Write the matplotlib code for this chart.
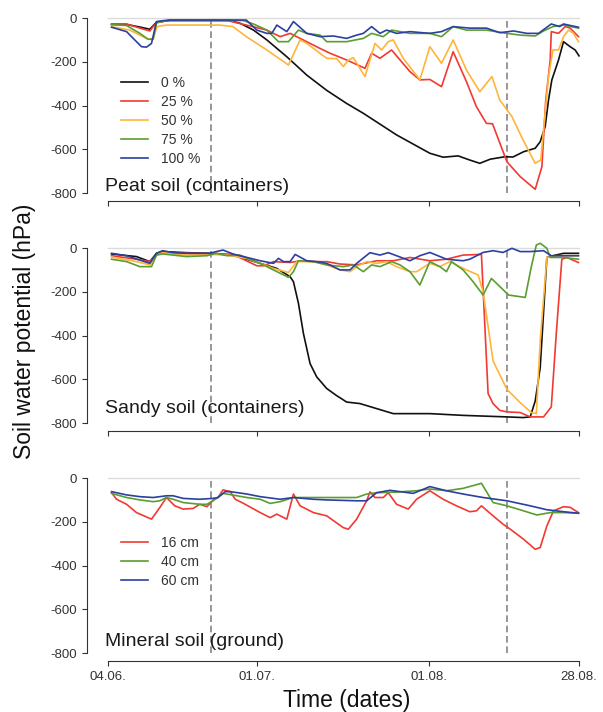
import numpy as np
import matplotlib
matplotlib.use('Agg')
import matplotlib.pyplot as plt

plt.rcParams['font.family'] = ['Liberation Sans', 'DejaVu Sans']

# days counted from 04.06.
tick_days = [0, 27, 58, 85]
tick_labels = ['04.06.', '01.07.', '01.08.', '28.08.']
event_days = [18.6, 72.1]

# ---- peat soil (containers) ----
peat_0_d = [0.7, 3.4, 5.8, 7.6, 8.8, 11.2, 22.0, 23.9, 26.3, 28.7, 32.3, 35.9, 39.5, 43.1, 46.1, 52.1,
            58.1, 60.5, 63.2, 65.3, 67.1, 69.0, 71.6, 73.1, 75.0, 77.1, 78.0, 78.9, 79.5, 80.1, 81.3,
            82.2, 83.4, 84.3, 85.0]
peat_0_v = [-28, -28, -40, -50, -18, -10, -10, -23, -54, -99, -176, -260, -330, -390, -435, -534,
            -618, -636, -630, -649, -664, -645, -634, -635, -611, -595, -565, -495, -374, -282, -191,
            -107, -130, -145, -172]
peat_25_d = [0.7, 3.4, 5.8, 7.6, 8.2, 8.9, 11.2, 21.5, 25.0, 28.7, 31.1, 32.9, 34.7, 38.3, 40.1, 43.1,
             46.4, 47.6, 49.1, 51.2, 54.5, 56.3, 58.1, 60.2, 62.3, 64.7, 66.5, 68.3, 69.4, 72.0, 74.4,
             77.1, 78.3, 79.0, 79.8, 80.0, 81.3, 82.5, 83.4, 84.9]
peat_25_v = [-26, -26, -45, -58, -38, -20, -8, -10, -31, -54, -84, -69, -92, -138, -160, -191,
             -229, -160, -183, -145, -244, -282, -280, -313, -153, -290, -405, -481, -483, -657, -725,
             -783, -680, -374, -191, -61, -69, -38, -45, -84]
peat_50_d = [0.7, 4.0, 5.8, 7.3, 8.2, 8.9, 10.6, 20.2, 22.6, 25.0, 28.7, 32.6, 34.7, 35.9, 39.5, 41.3,
             42.5, 43.4, 44.3, 46.4, 48.2, 49.4, 50.6, 51.5, 53.3, 56.3, 58.1, 60.2, 62.3, 64.7, 67.1,
             69.3, 70.7, 72.9, 74.9, 77.1, 78.1, 78.6, 79.5, 80.3, 81.3, 82.2, 83.1, 84.0, 84.9]
peat_50_v = [-38, -54, -77, -96, -92, -38, -31, -31, -38, -84, -145, -214, -99, -115, -183, -185,
             -221, -191, -180, -267, -115, -145, -107, -99, -183, -282, -130, -206, -99, -237, -336,
             -267, -374, -450, -557, -664, -649, -511, -267, -145, -145, -84, -54, -69, -107]
peat_75_d = [0.7, 3.4, 5.8, 7.3, 8.2, 8.8, 10.6, 24.4, 26.3, 28.7, 30.8, 32.6, 34.4, 35.9, 38.3, 39.5,
             43.1, 46.1, 47.6, 49.7, 51.2, 54.5, 58.1, 60.2, 62.3, 64.7, 68.3, 72.0, 74.4, 77.1, 78.6,
             80.3, 82.2, 84.9]
peat_75_v = [-29, -33, -69, -96, -96, -20, -11, -10, -26, -54, -107, -107, -54, -69, -77, -107,
             -107, -92, -69, -84, -54, -69, -69, -84, -38, -54, -54, -69, -77, -81, -58,
             -38, -31, -45]
peat_100_d = [0.7, 3.4, 4.6, 6.1, 7.0, 7.9, 8.8, 9.9, 11.2, 25.0, 26.9, 28.7, 29.6, 30.5, 32.3, 33.5,
              35.9, 38.3, 40.7, 43.1, 44.9, 46.1, 47.6, 49.1, 50.3, 52.1, 54.5, 58.1, 60.2, 62.3, 65.3,
              68.3, 70.7, 73.2, 75.6, 77.7, 80.0, 81.5, 82.2, 84.9]
peat_100_v = [-41, -61, -92, -130, -132, -115, -15, -11, -8, -8, -54, -69, -69, -31, -61, -15,
              -69, -84, -81, -92, -77, -69, -38, -69, -54, -69, -61, -69, -61, -38, -45,
              -45, -66, -58, -69, -69, -26, -38, -26, -41]

# ---- sandy soil (containers) ----
sand_0_d = [0.7, 5.2, 7.6, 8.8, 9.9, 14.2, 18.4, 22.6, 27.5, 30.5, 32.9, 33.5, 34.4, 35.3, 36.5, 37.7,
            39.5, 41.2, 43.1, 45.5, 48.5, 51.5, 58.1, 64.1, 72.0, 74.9, 76.2, 77.1, 78.0, 79.2, 80.3,
            82.2, 84.9]
sand_0_v = [-26, -38, -61, -23, -15, -20, -23, -31, -69, -92, -130, -153, -252, -390, -528, -589,
            -642, -673, -704, -711, -734, -757, -757, -765, -772, -775, -772, -699, -546, -42, -34,
            -23, -23]
sand_25_d = [0.7, 5.2, 7.6, 8.8, 9.9, 20.2, 22.6, 25.0, 26.9, 28.1, 29.9, 32.9, 34.7, 37.1, 39.5, 41.9,
             44.9, 48.5, 51.5, 54.5, 58.1, 61.1, 64.1, 67.4, 68.1, 68.6, 69.5, 70.7, 72.0, 74.4, 76.2,
             78.6, 80.0, 80.9, 81.9, 82.8, 84.9]
sand_25_v = [-34, -50, -61, -28, -20, -25, -28, -57, -80, -80, -61, -65, -57, -61, -61, -72,
             -76, -57, -57, -42, -57, -50, -31, -28, -400, -665, -711, -742, -749, -752, -772,
             -772, -726, -390, -50, -42, -65]
sand_50_d = [0.7, 5.2, 7.6, 8.8, 9.9, 14.2, 18.4, 21.5, 25.0, 27.5, 29.9, 32.6, 34.1, 37.1, 39.5, 41.9,
             43.7, 44.9, 46.7, 48.5, 50.3, 52.1, 54.5, 55.7, 58.1, 59.9, 61.7, 64.7, 66.8, 67.7, 69.5,
             72.0, 74.4, 76.4, 77.3, 78.0, 79.2, 81.0, 84.9]
sand_50_v = [-40, -61, -76, -31, -20, -31, -28, -31, -46, -69, -92, -111, -61, -61, -76, -99,
             -107, -84, -61, -69, -61, -84, -107, -107, -69, -84, -61, -99, -122, -199, -516,
             -646, -707, -752, -757, -424, -42, -34, -34]
sand_75_d = [0.7, 3.4, 5.8, 7.9, 8.8, 9.9, 11.8, 14.2, 17.9, 19.6, 21.5, 23.8, 27.5, 29.9, 32.6, 33.5,
             34.4, 37.1, 39.5, 42.5, 44.3, 46.1, 47.6, 49.1, 51.2, 52.7, 54.5, 56.3, 58.1, 59.9, 61.1,
             62.0, 64.1, 65.9, 67.7, 69.2, 72.3, 75.3, 76.4, 77.3, 78.0, 79.2, 79.8, 82.2, 84.9]
sand_75_v = [-50, -61, -84, -84, -31, -26, -31, -38, -34, -23, -34, -31, -69, -99, -133, -107,
             -57, -61, -76, -84, -76, -107, -76, -84, -61, -76, -107, -168, -61, -84, -107,
             -61, -99, -153, -214, -138, -214, -225, -84, 15, 23, 0, -42, -42, -50]
sand_100_d = [0.7, 3.4, 7.6, 8.8, 9.9, 11.8, 14.2, 18.4, 19.6, 20.8, 22.6, 27.5, 29.9, 30.8, 31.7, 32.9,
              33.8, 35.9, 37.7, 39.5, 41.9, 43.7, 44.9, 47.3, 49.1, 50.6, 52.1, 54.5, 56.3, 58.1, 61.1,
              64.1, 65.3, 67.7, 69.5, 71.3, 72.9, 74.4, 76.2, 78.6, 80.0, 82.2, 84.9]
sand_100_v = [-23, -34, -69, -23, -11, -20, -23, -23, -15, -8, -26, -57, -69, -46, -61, -61,
              -28, -57, -61, -69, -99, -99, -69, -20, -31, -20, -34, -57, -34, -19, -50,
              -57, -50, -19, -11, -19, 0, -15, -15, -11, -34, -34, -34]

# ---- mineral soil (ground) ----
min_16_d = [0.7, 1.6, 3.4, 5.2, 7.9, 9.4, 10.6, 12.1, 13.6, 15.4, 16.6, 17.9, 19.0, 19.9, 20.8, 22.1,
            23.0, 24.5, 27.5, 29.3, 30.5, 32.3, 33.5, 34.7, 37.1, 39.5, 42.5, 43.4, 44.9, 46.7, 47.3,
            48.2, 49.7, 50.6, 52.1, 54.2, 55.7, 58.1, 60.5, 62.9, 65.3, 66.5, 67.4, 69.5, 71.3, 72.6,
            75.0, 77.1, 78.0, 79.2, 80.4, 82.2, 83.4, 84.9]
min_16_v = [-66, -96, -119, -157, -187, -134, -88, -126, -141, -138, -119, -130, -100, -88, -53, -61,
            -96, -115, -157, -180, -164, -187, -72, -126, -157, -172, -226, -233, -187, -103, -62,
            -88, -88, -66, -119, -141, -96, -57, -96, -126, -153, -149, -126, -172, -210, -233,
            -279, -325, -317, -218, -149, -130, -133, -157]
min_40_d = [0.7, 3.4, 5.8, 8.2, 9.4, 10.6, 11.8, 13.6, 16.6, 17.9, 19.0, 20.8, 21.5, 23.3, 25.1, 27.5,
            29.3, 31.1, 33.5, 36.5, 39.5, 44.9, 46.7, 48.5, 52.1, 55.7, 58.1, 61.1, 64.1, 67.4, 69.5,
            72.0, 75.0, 77.4, 79.8, 82.2, 84.9]
min_40_v = [-69, -88, -99, -107, -103, -88, -96, -111, -119, -119, -103, -69, -72, -80, -88, -96,
            -115, -107, -88, -88, -88, -88, -72, -66, -63, -57, -49, -57, -46, -23, -111,
            -126, -149, -168, -157, -157, -160]
min_60_d = [0.7, 3.4, 5.8, 8.2, 10.6, 11.8, 13.6, 16.6, 19.0, 19.9, 21.2, 22.1, 25.1, 27.5, 31.1, 33.5,
            37.1, 39.5, 44.9, 46.7, 48.5, 50.9, 55.1, 58.1, 61.1, 64.1, 67.7, 72.0, 76.2, 79.2, 82.2,
            84.9]
min_60_v = [-61, -76, -84, -88, -80, -80, -92, -96, -92, -88, -61, -61, -72, -84, -96, -88,
            -96, -99, -103, -103, -66, -55, -69, -38, -57, -72, -88, -103, -126, -144, -153,
            -160]

c_black, c_red, c_orange, c_green, c_blue = '#111111', '#f03a32', '#ffb53a', '#5a9e2f', '#2b40a0'

panels = [
    ('Peat soil (containers)', -792,
     [(peat_0_d, peat_0_v, c_black, '0 %'), (peat_25_d, peat_25_v, c_red, '25 %'),
      (peat_50_d, peat_50_v, c_orange, '50 %'), (peat_75_d, peat_75_v, c_green, '75 %'),
      (peat_100_d, peat_100_v, c_blue, '100 %')], True),
    ('Sandy soil (containers)', -755,
     [(sand_0_d, sand_0_v, c_black, '0 %'), (sand_25_d, sand_25_v, c_red, '25 %'),
      (sand_50_d, sand_50_v, c_orange, '50 %'), (sand_75_d, sand_75_v, c_green, '75 %'),
      (sand_100_d, sand_100_v, c_blue, '100 %')], False),
    ('Mineral soil (ground)', -770,
     [(min_16_d, min_16_v, c_red, '16 cm'), (min_40_d, min_40_v, c_green, '40 cm'),
      (min_60_d, min_60_v, c_blue, '60 cm')], True),
]

W, H = 603, 712
fig = plt.figure(figsize=(W / 100, H / 100), dpi=100)

zero_px = [18.3, 248.3, 478.3]
scale = 0.2184  # px per hPa
ylo, yhi = -836, 47
left_px, right_px = 87, 590
day_left = -3.73
day_right = (right_px - 107.7) / 5.545

for i, (title, ty, series, show_leg) in enumerate(panels):
    top = zero_px[i] - yhi * scale
    bot = zero_px[i] - ylo * scale
    ax = fig.add_axes([left_px / W, 1 - bot / H, (right_px - left_px) / W, (bot - top) / H])
    ax.set_xlim(day_left, day_right)
    ax.set_ylim(ylo, yhi)

    ax.plot([0, 85], [0, 0], color='#dcdcdc', lw=1.0, zorder=1)
    ax.vlines(event_days, -800, 0, colors='#858585', linestyles=(0, (4, 2.2)), lw=1.2, zorder=1)

    for d, v, c, lab in series:
        ax.plot(d, v, color=c, lw=1.2, label=lab, zorder=3)

    ax.text(-0.5, ty, title, fontsize=14, color='#1a1a1a', ha='left', va='baseline')

    if show_leg:
        ax.legend(loc='upper left', bbox_to_anchor=(2.4, -265), bbox_transform=ax.transData,
                  frameon=False, fontsize=10, handlelength=1.95, handletextpad=0.95,
                  labelspacing=0.36, borderpad=0, borderaxespad=0, labelcolor='#333333')

    for s in ['top', 'right']:
        ax.spines[s].set_visible(False)
    for s in ['left', 'bottom']:
        ax.spines[s].set_color('#333333')
        ax.spines[s].set_linewidth(0.8)
    ax.spines['left'].set_bounds(-800, 0)
    ax.spines['bottom'].set_bounds(0, 85)

    ax.set_yticks([0, -200, -400, -600, -800])
    ax.set_yticklabels(['0', '-200', '-400', '-600', '-800'])
    ax.set_xticks(tick_days)
    if i == 2:
        ax.set_xticklabels(tick_labels)
    else:
        ax.set_xticklabels([])
    ax.tick_params(axis='both', direction='out', length=3.6, width=0.8, color='#333333',
                   labelsize=9.5, labelcolor='#333333', pad=3.5)

fig.text(25 / W, 1 - 331 / H, 'Soil water potential (hPa)', rotation=90, fontsize=16.5,
         ha='center', va='center', color='#111111')
fig.text(347 / W, 1 - 701 / H, 'Time (dates)', fontsize=16.5, ha='center', va='center',
         color='#111111')

fig.savefig('out.png', dpi=100)
